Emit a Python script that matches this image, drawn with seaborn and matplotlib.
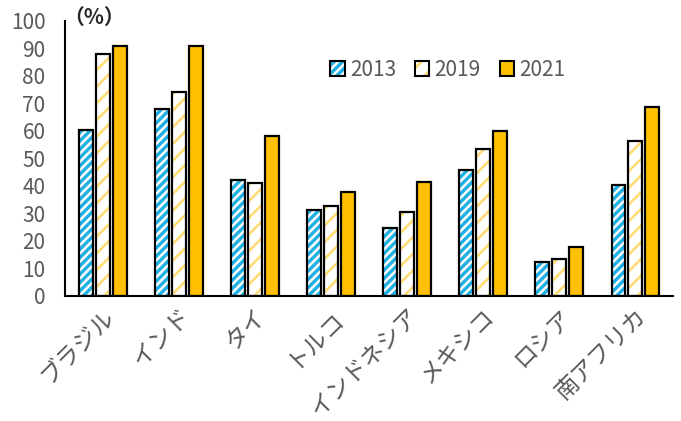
import matplotlib
matplotlib.use("Agg")
import matplotlib.pyplot as plt
import seaborn as sns
import pandas as pd
from matplotlib.patches import Rectangle, Patch

countries = ["ブラジル", "インド", "タイ", "トルコ", "インドネシア", "メキシコ", "ロシア", "南アフリカ"]
years = ["2013", "2019", "2021"]
v2013 = [60.2, 67.8, 42.1, 31.2, 24.8, 45.8, 12.3, 40.4]
v2019 = [87.7, 74.2, 41.0, 32.6, 30.4, 53.4, 13.6, 56.3]
v2021 = [90.7, 90.7, 58.0, 37.7, 41.4, 60.0, 17.8, 68.8]

df = pd.DataFrame({
    "country": countries * 3,
    "year": [y for y in years for _ in countries],
    "value": v2013 + v2019 + v2021,
})

sns.set_theme(style="white")
plt.rcParams["font.family"] = ["Noto Sans CJK JP", "DejaVu Sans"]
plt.rcParams["hatch.linewidth"] = 1.8

fig = plt.figure(figsize=(6.81, 4.21), dpi=100)
ax = fig.add_axes([0.0954, 0.297, 0.893, 0.654])

face = {"2013": "#1FB0E6", "2019": "#FFFFFF", "2021": "#FFC000"}
hatchc = {"2013": "#FFFFFF", "2019": "#FFDB70", "2021": "#FFC000"}
hatches = {"2013": "////", "2019": "//", "2021": ""}

sns.barplot(data=df, x="country", y="value", hue="year", hue_order=years,
            palette=face, width=0.66, gap=0.18, ax=ax, legend=False,
            saturation=1)

n = len(countries)
for i, patch in enumerate(list(ax.patches)):
    yr = years[i // n]
    patch.set_hatch(hatches[yr])
    patch.set_edgecolor(hatchc[yr])
    patch.set_linewidth(0)
    x, y = patch.get_xy()
    r = Rectangle((x, y), patch.get_width(), patch.get_height(),
                  facecolor="none", edgecolor="black", linewidth=1.6, zorder=3)
    ax.add_patch(r)

ax.set_ylim(0, 100)
ax.set_yticks(range(0, 101, 10))
ax.set_xlim(-0.5, n - 0.5)
ax.set_xlabel("")
ax.set_ylabel("")
for s in ["top", "right"]:
    ax.spines[s].set_visible(False)
for s in ["left", "bottom"]:
    ax.spines[s].set_color("black")
    ax.spines[s].set_linewidth(1.5)
ax.tick_params(axis="y", direction="in", length=5, width=1.2, color="black",
               labelsize=15, labelcolor="#595959", pad=14)
ax.tick_params(axis="x", length=0, labelsize=17, labelcolor="#595959", pad=6)
plt.setp(ax.get_xticklabels(), rotation=45, ha="right", rotation_mode="anchor")
for t in ax.get_yticklabels():
    t.set_family(["Liberation Sans Narrow", "Noto Sans CJK JP", "DejaVu Sans"])

# legend
handles = []
for y in years:
    h1 = Patch(facecolor=face[y], edgecolor=hatchc[y], hatch=hatches[y], linewidth=0)
    h2 = Patch(facecolor="none", edgecolor="black", linewidth=1.5)
    handles.append((h1, h2))
leg = ax.legend(handles, years, loc="upper left", bbox_to_anchor=(0.405, 0.93),
                ncol=3, frameon=False, fontsize=15, handlelength=0.7,
                handleheight=0.7, handletextpad=0.25, columnspacing=0.9)
for t in leg.get_texts():
    t.set_color("#595959")
    t.set_family(["Liberation Sans Narrow", "Noto Sans CJK JP", "DejaVu Sans"])

fig.text(0.093, 0.958, "（%）", fontsize=15, fontweight="bold", color="#262626",
         ha="left", va="center")

fig.savefig("out.png", dpi=100)
